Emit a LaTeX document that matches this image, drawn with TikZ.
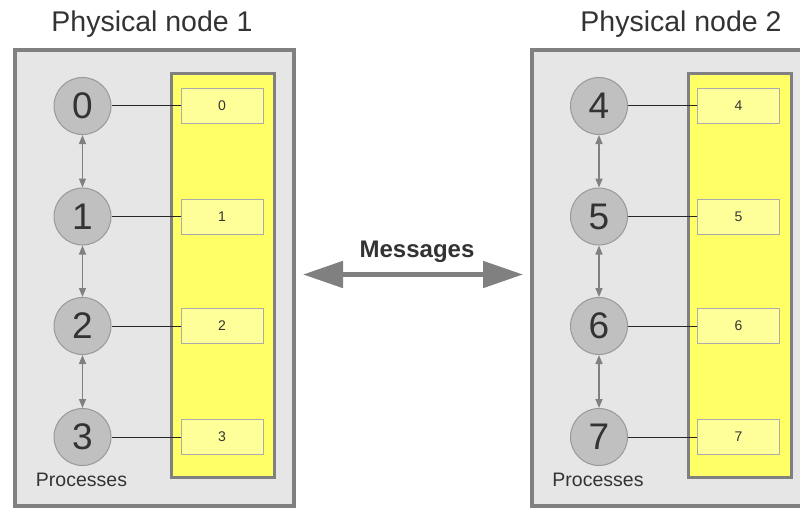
\documentclass[tikz,border=0pt]{standalone}
\usepackage{fontspec}
\setmainfont{Liberation Sans}
\usetikzlibrary{arrows.meta}

\definecolor{frame}{HTML}{808080}
\definecolor{hostfill}{HTML}{E6E6E6}
\definecolor{memfill}{HTML}{FFFF66}
\definecolor{slotfill}{HTML}{FFFF99}
\definecolor{slotline}{HTML}{ABABAB}
\definecolor{procfill}{HTML}{C0C0C0}
\definecolor{procline}{HTML}{999999}
\definecolor{ink}{HTML}{333333}

\tikzset{
  host/.style={draw=frame, line width=4pt, fill=hostfill},
  memory/.style={draw=frame, line width=3pt, fill=memfill},
  proc/.style={circle, draw=procline, line width=1pt, fill=procfill,
    minimum size=57pt, inner sep=0pt, text=ink,
    font=\fontsize{37}{37}\selectfont},
  slot/.style={rectangle, draw=slotline, line width=1pt, fill=slotfill,
    minimum width=82pt, minimum height=35pt, inner sep=0pt, text=ink,
    font=\fontsize{14}{14}\selectfont},
  link/.style={draw=black!85, line width=1pt},
  comm/.style={draw=frame, line width=1.5pt,
    {Triangle[length=9pt,width=7pt]}-{Triangle[length=9pt,width=7pt]}},
  title/.style={anchor=base, text=ink, font=\fontsize{28.5}{28.5}\selectfont},
  caption/.style={anchor=base, text=ink, font=\fontsize{19.5}{19.5}\selectfont},
  msg/.style={draw=frame, line width=5pt,
    {Triangle[length=40pt,width=26pt]}-{Triangle[length=40pt,width=26pt]}},
}

\begin{document}
\begin{tikzpicture}[x=1pt, y=-1pt]
  \clip (0,0) rectangle (800,508);
  \fill[white] (0,0) rectangle (800,508);

  % two hosts, each with four processes and a shared memory column
  \foreach \h/\dx in {0/0, 1/516.5} {
    \begin{scope}[xshift=\dx pt]
      \draw[host] (15,50) rectangle (294,506);
      \draw[memory] (171.5,73.5) rectangle (274.5,477.5);
      \foreach \i/\y in {0/106, 1/216.5, 2/326, 3/437} {
        \pgfmathtruncatemacro{\n}{4*\h+\i}
        \node[proc] (p\n) at (82.5,\y) {\n};
        \node[slot] (m\n) at (222,\y) {\n};
        \draw[link] (p\n) -- (m\n);
      }
      \node[caption] (cap\h) at (81.5,486) {Processes};
    \end{scope}
  }

  % neighbour communication inside each host
  \foreach \a/\b in {0/1, 1/2, 2/3, 4/5, 5/6, 6/7} {
    \draw[comm] (p\a) -- (p\b);
  }

  \node[title] (t1) at (152,31.5) {Physical node 1};
  \node[title] (t2) at (681,31.5) {Physical node 2};

  % message exchange between the hosts
  \coordinate (msgL) at (303,274.5);
  \coordinate (msgR) at (523,274.5);
  \draw[msg] (msgL) -- (msgR);
  \node[anchor=base, text=ink, font=\fontsize{24}{24}\selectfont\bfseries]
    (msgtext) at (417,257) {Messages};
\end{tikzpicture}
\end{document}
